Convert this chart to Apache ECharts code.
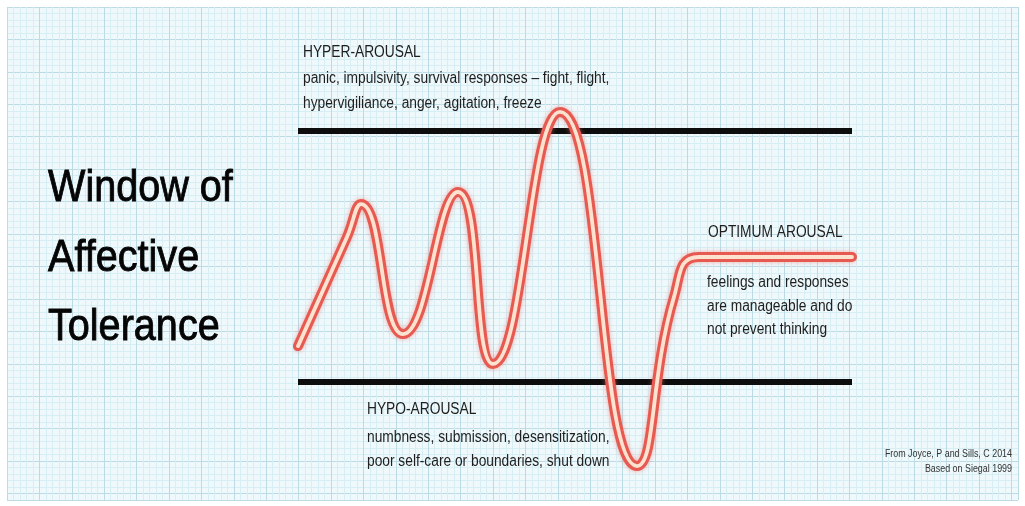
<!DOCTYPE html>
<html>
<head>
<meta charset="utf-8">
<title>Window of Affective Tolerance</title>
<script src="https://cdn.jsdelivr.net/npm/echarts@6/dist/echarts.min.js"></script>
<style>
    html, body { margin: 0; padding: 0; background: #fff; }
    #chart { width: 1025px; height: 506px; }
</style>
</head>
<body>
<div id="chart"></div>
<script>
// arousal over time, 0 = lower edge of the window, 10 = upper edge
// start, a point high on the first climb, every peak / trough,
// a point on the last climb, then where it settles
var timeSteps = [0, 8.84, 11.37, 18.95, 28.88, 35.20, 47.29, 61.19, 67.87, 72.38, 100];
var arousal = [1.43, 5.78, 7.09, 1.91, 7.57, 0.72, 10.76, -3.35, 3.39, 4.98, 4.98];

// window of tolerance
var windowLower = 0;
var windowUpper = 10;
var timeRange = [0, 100];

var titleLines = ['Window of', 'Affective', 'Tolerance'];
var hyperTitle = 'HYPER-AROUSAL';
var hyperText = ['panic, impulsivity, survival responses \u2013 fight, flight,', 'hypervigiliance, anger, agitation, freeze'];
var optimumTitle = 'OPTIMUM AROUSAL';
var optimumText = ['feelings and responses', 'are manageable and do', 'not prevent thinking'];
var hypoTitle = 'HYPO-AROUSAL';
var hypoText = ['numbness, submission, desensitization,', 'poor self-care or boundaries, shut down'];
var credits = ['From Joyce, P and Sills, C 2014', 'Based on Siegal 1999'];

var curve = timeSteps.map(function(t, i) {
    return [t, arousal[i]];
});

function edgeLine(v) {
    return [[timeRange[0], v], [timeRange[1], v]];
}

// one text element per line, y = middle of the first line
function label(x, y, lines, size, lineHeight, opts) {
    opts = opts || {};
    if (typeof lines === 'string') lines = [lines];
    return lines.map(function(s, i) {
        var style = {
            text: s,
            fontSize: size,
            fontFamily: 'Liberation Sans, Arial, sans-serif',
            fill: opts.color || '#1e1e1e',
            align: opts.align || 'left',
            verticalAlign: 'middle'
        };
        if (opts.bold) {
            style.stroke = opts.color;
            style.lineWidth = opts.bold;
        }
        return {
            type: 'text',
            x: x,
            y: y + i * lineHeight,
            scaleX: opts.scaleX || 0.86,
            z: 100,
            style: style
        };
    });
}

var myChart = echarts.init(document.getElementById('chart'), null, { renderer: 'canvas' });

var paperLine = { show: true, lineStyle: { color: '#bddbe4', width: 1 } };
var paperMinor = { show: true, lineStyle: { color: '#d7eef4', width: 1 } };

var texts = [].concat(
    label(48, 189, titleLines, 45, 69.5, { scaleX: 0.88, color: '#050505', bold: 0.9 }),
    label(303, 53, hyperTitle, 16, 24),
    label(303, 79, hyperText, 16, 24.5),
    label(708, 233, optimumTitle, 16, 24),
    label(707, 283, optimumText, 16, 23.5),
    label(367, 410, hypoTitle, 16, 24),
    label(367, 438, hypoText, 16, 24),
    label(1012, 454, credits, 10, 15, { align: 'right', scaleX: 0.89, color: '#333' })
);

var option = {
    animation: false,
    backgroundColor: '#ffffff',
    grid: [
        // graph paper
        { left: 7, right: 7, top: 7, bottom: 6, show: true, backgroundColor: '#eff9fc', borderWidth: 0 },
        // the chart itself
        { left: 298, right: 173, top: 80.8, bottom: 23.6 }
    ],
    xAxis: [
        {
            gridIndex: 0, type: 'value', min: 0, max: 31.2, interval: 1,
            axisLine: { show: false }, axisTick: { show: false }, axisLabel: { show: false },
            minorTick: { show: false, splitNumber: 5 },
            splitLine: paperLine, minorSplitLine: paperMinor
        },
        {
            gridIndex: 1, type: 'value', min: timeRange[0], max: timeRange[1], show: false
        }
    ],
    yAxis: [
        {
            gridIndex: 0, type: 'value', min: 0, max: 15.2, interval: 1, inverse: true,
            axisLine: { show: false }, axisTick: { show: false }, axisLabel: { show: false },
            minorTick: { show: false, splitNumber: 5 },
            splitLine: paperLine, minorSplitLine: paperMinor
        },
        {
            gridIndex: 1, type: 'value', min: -4, max: 12, show: false
        }
    ],
    series: [
        {
            type: 'line', xAxisIndex: 1, yAxisIndex: 1, data: edgeLine(windowUpper),
            symbol: 'none', silent: true, z: 2,
            lineStyle: { color: '#0d0d0d', width: 6 }
        },
        {
            type: 'line', xAxisIndex: 1, yAxisIndex: 1, data: edgeLine(windowLower),
            symbol: 'none', silent: true, z: 2,
            lineStyle: { color: '#0d0d0d', width: 6 }
        },
        {
            // red tube
            type: 'line', xAxisIndex: 1, yAxisIndex: 1, data: curve,
            symbol: 'none', smooth: 0.5, clip: false, silent: true, z: 3,
            lineStyle: {
                color: '#e65a52', width: 10, cap: 'round', join: 'round',
                shadowBlur: 5, shadowColor: 'rgba(240, 115, 105, 0.55)'
            }
        },
        {
            // light core of the tube
            type: 'line', xAxisIndex: 1, yAxisIndex: 1, data: curve,
            symbol: 'none', smooth: 0.5, clip: false, silent: true, z: 4,
            lineStyle: { color: '#fde2d0', width: 3.8, cap: 'round', join: 'round' }
        }
    ],
    graphic: texts
};

myChart.setOption(option, true);
</script>
</body>
</html>
